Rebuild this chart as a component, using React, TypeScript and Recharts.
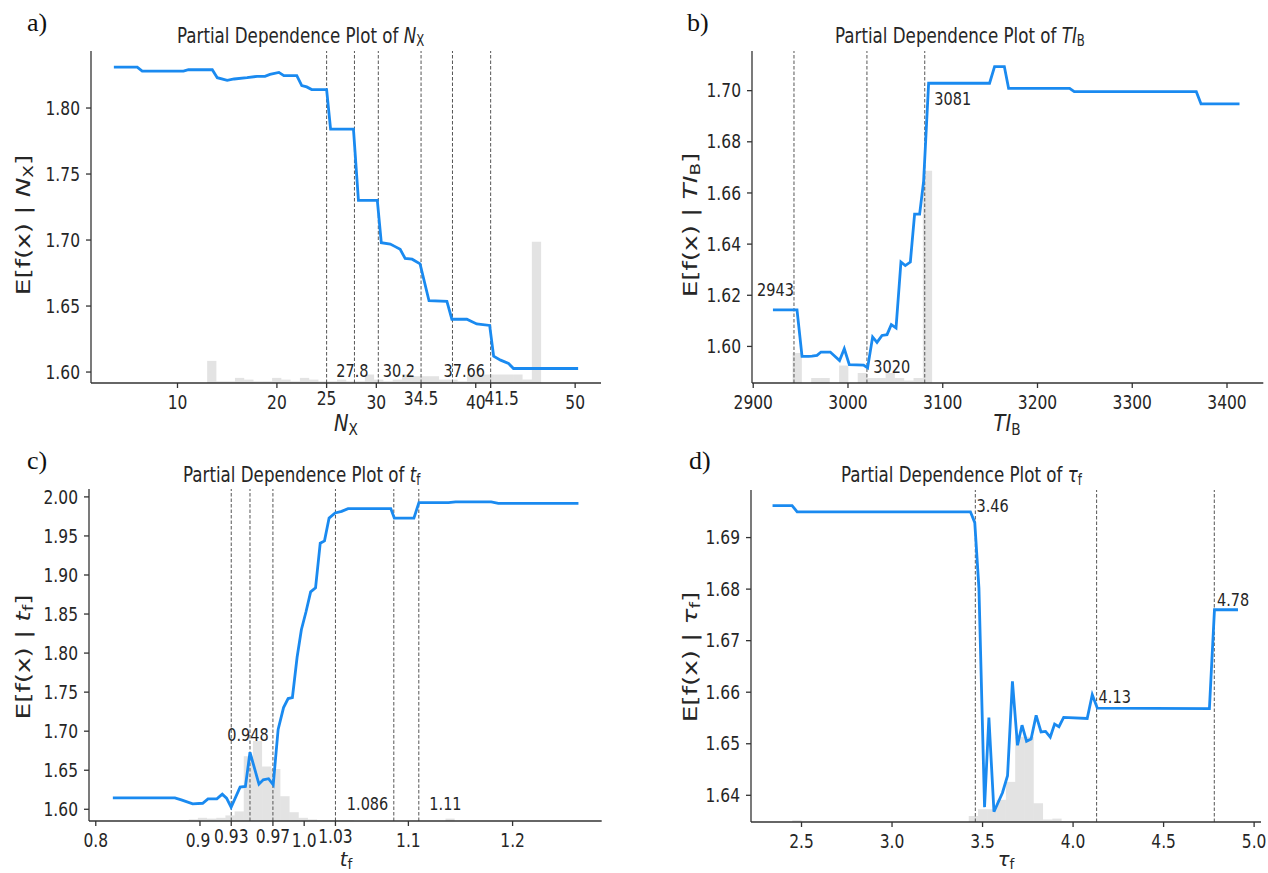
import React from "react";
import { ComposedChart, Line, XAxis, YAxis, ReferenceLine, ReferenceArea, ReferenceDot } from "recharts";

const FONT = "'DejaVu Sans', sans-serif";
const SERIF = "'Liberation Serif', serif";
const INK = "#262626";
const BLUE = "#1a8af0";
const TICK = 15.5;
const NOTE = 14.5;
const TITLE = 16.7;
const LABEL = 19.5;
const K = 1.2; // the source figure is stretched vertically
const KT = 1.32; // titles
const KY = 1.35; // same stretch, along the rotated y labels

// a) N_X
const nxX = [3.6, 5.95, 6.45, 10.6, 11.1, 13.5, 14.0, 15.0, 15.7, 17.0, 18.0, 18.8, 19.3, 20.2, 20.7, 22.0, 22.5, 23.0, 23.5, 25.0, 25.4, 27.7, 28.2, 30.1, 30.5, 31.4, 31.9, 32.4, 32.9, 33.6, 34.4, 35.3, 37.1, 37.6, 39.1, 40.1, 41.4, 41.8, 42.5, 43.3, 43.8, 50.3];
const nxPd = [1.831, 1.831, 1.828, 1.828, 1.829, 1.829, 1.823, 1.821, 1.822, 1.823, 1.824, 1.824, 1.8255, 1.827, 1.8245, 1.8245, 1.817, 1.816, 1.814, 1.814, 1.784, 1.784, 1.73, 1.73, 1.698, 1.697, 1.695, 1.693, 1.686, 1.6855, 1.682, 1.654, 1.6535, 1.64, 1.64, 1.6364, 1.6353, 1.612, 1.609, 1.6065, 1.6027, 1.6027];
const nxCounts = [13, 1, 1, 3, 2, 1, 1, 3, 2, 1, 3, 2, 1, 1, 2, 1, 1, 5, 2, 1, 2, 5, 4, 4, 4, 2, 2, 1, 5, 5, 5, 5, 5, 5, 2, 83];
const nxCuts = [25, 27.8, 30.2, 34.5, 37.66, 41.5];
const nxTicks = [10, 20, 25, 30, 34.5, 40, 41.5, 50];
const nxYTicks = [1.6, 1.65, 1.7, 1.75, 1.8];

// b) TI_B
const tiX = [2920.8, 2946.2, 2951.5, 2958.4, 2962, 2967.3, 2971.5, 2981.3, 2991.1, 2996.1, 3001.4, 3016.5, 3020.7, 3026, 3030.6, 3035.9, 3041.2, 3045.7, 3050.7, 3055.9, 3060.5, 3065.8, 3070.3, 3075.6, 3079.8, 3085.1, 3149.4, 3154.7, 3165, 3169.5, 3233.9, 3238.8, 3367.6, 3372.6, 3413.2];
const tiPd = [1.6143, 1.6143, 1.5961, 1.5961, 1.5962, 1.5965, 1.5978, 1.5978, 1.5945, 1.5991, 1.5929, 1.5927, 1.5916, 1.6037, 1.6016, 1.6043, 1.6046, 1.6085, 1.6072, 1.633, 1.6316, 1.633, 1.6517, 1.6517, 1.6645, 1.7029, 1.7029, 1.7094, 1.7094, 1.7009, 1.7009, 1.6996, 1.6996, 1.6948, 1.6948];
const tiCounts = [12, 0, 2, 2, 0, 7, 0, 4, 2, 2, 4, 2, 1, 2, 85];
const tiCuts = [2943, 3020, 3081];
const tiTicks = [2900, 3000, 3100, 3200, 3300, 3400];
const tiYTicks = [1.6, 1.62, 1.64, 1.66, 1.68, 1.7];

// c) t_f
const tfX = [0.8164, 0.8759, 0.8821, 0.893, 0.9026, 0.9077, 0.9162, 0.9214, 0.9255, 0.9299, 0.9385, 0.9436, 0.948, 0.9566, 0.9607, 0.9658, 0.9703, 0.975, 0.9802, 0.9846, 0.9887, 0.9932, 0.9973, 1.0017, 1.0062, 1.0109, 1.0154, 1.0195, 1.0239, 1.0297, 1.0359, 1.0421, 1.0831, 1.0865, 1.1053, 1.1101, 1.1385, 1.1453, 1.1795, 1.1863, 1.2632];
const tfPd = [1.6146, 1.6146, 1.612, 1.6069, 1.6077, 1.6133, 1.6133, 1.6193, 1.6142, 1.6026, 1.6284, 1.6292, 1.673, 1.6322, 1.6378, 1.6391, 1.6314, 1.7023, 1.7302, 1.7418, 1.7431, 1.7946, 1.8299, 1.8526, 1.8784, 1.8836, 1.9407, 1.9437, 1.9729, 1.9794, 1.9815, 1.985, 1.985, 1.9729, 1.9729, 1.9927, 1.9927, 1.9936, 1.9936, 1.9918, 1.9918];
const tfCounts = [1, 2, 4, 3, 4, 7, 12, 81, 100, 68, 65, 31, 11, 4, 2, 1, 1, 1, 1, 0, 0, 0, 0, 0, 0, 0, 0, 0, 0, 3];
const tfCuts = [0.93, 0.948, 0.97, 1.03, 1.086, 1.11];
const tfTicks = [0.8, 0.9, 0.93, 0.97, 1.0, 1.03, 1.1, 1.2];
const tfYTicks = [1.6, 1.65, 1.7, 1.75, 1.8, 1.85, 1.9, 1.95, 2.0];

// d) tau_f
const tauX = [2.34, 2.448, 2.476, 3.433, 3.457, 3.48, 3.511, 3.535, 3.563, 3.61, 3.638, 3.665, 3.693, 3.718, 3.743, 3.768, 3.796, 3.823, 3.848, 3.874, 3.898, 3.922, 3.948, 4.078, 4.106, 4.134, 4.753, 4.781, 4.911];
const tauPd = [1.6962, 1.6962, 1.695, 1.695, 1.6929, 1.6802, 1.6377, 1.6551, 1.6368, 1.6405, 1.6438, 1.6621, 1.6497, 1.6536, 1.6505, 1.6509, 1.6555, 1.6523, 1.6524, 1.6513, 1.6538, 1.6533, 1.6551, 1.6549, 1.6595, 1.6569, 1.6568, 1.676, 1.676];
const tauCounts = [2, 0, 0, 0, 0, 0, 0, 0, 0, 0, 0, 0, 0, 0, 0, 0, 0, 0, 0, 7, 15, 15, 26, 47, 100, 100, 22, 3, 4, 1, 1, 1];
const tauCuts = [3.46, 4.13, 4.78];
const tauTicks = [2.5, 3.0, 3.5, 4.0, 4.5, 5.0];
const tauYTicks = [1.64, 1.65, 1.66, 1.67, 1.68, 1.69];

const near = (a: number, b: number) => Math.abs(a - b) < 1e-9;

const XTick = (p: any) => {
  const v = p.payload.value;
  const up = p.raised.some((r: number) => near(r, v)) ? 4 : 0;
  const shift = p.shift && p.shift[String(v)] ? p.shift[String(v)] : 0;
  return (
    <text transform={`translate(${p.x + shift},${p.y + 0.73 * TICK * K - up}) scale(1,${K})`} textAnchor="middle" fontSize={TICK} fontFamily={FONT} fill={INK}>
      {p.fmt(v)}
    </text>
  );
};

const YTick = (p: any) => (
  <text transform={`translate(${p.x},${p.y + 0.36 * TICK * K}) scale(1,${K})`} textAnchor="end" fontSize={TICK} fontFamily={FONT} fill={INK}>
    {p.payload.value.toFixed(2)}
  </text>
);

const noteShape = (n: any) => (p: any) => (
  <text transform={`translate(${p.cx + n.dx},${p.cy + 0.36 * NOTE * K}) scale(1,${K})`} textAnchor={n.anchor} fontSize={NOTE} fontFamily={FONT} fill={INK}>
    {n.text}
  </text>
);

function Panel(props: any) {
  const { box, xs, ys, binStart, binWidth, counts, histTop, xDomain, yDomain, xTicks, yTicks, raised, shift, xFmt, cuts, notes } = props;
  const pts = xs.map((x: number, i: number) => ({ x, y: ys[i] }));
  const bins = counts
    .map((c: number, i: number) => ({ x1: binStart + i * binWidth, x2: binStart + (i + 1) * binWidth, c }))
    .filter((b: any) => b.c > 0);
  const L = 80, T = 10, R = 12, B = 45;
  return (
    <div style={{ position: "absolute", left: box.left - L, top: box.top - T }}>
      <ComposedChart width={box.w + L + R} height={box.h + T + B} margin={{ top: T, right: R, bottom: 0, left: 0 }}>
        <XAxis type="number" dataKey="x" domain={xDomain} allowDataOverflow ticks={xTicks} interval={0} height={B}
          tickSize={5} tickMargin={7} stroke="#333" strokeWidth={1.3}
          tick={(p: any) => <XTick {...p} raised={raised} shift={shift} fmt={xFmt} />} />
        <YAxis type="number" domain={yDomain} allowDataOverflow ticks={yTicks} interval={0} width={L}
          tickSize={5} tickMargin={6} stroke="#333" strokeWidth={1.3} tick={(p: any) => <YTick {...p} />} />
        <YAxis yAxisId="hist" hide domain={[0, histTop]} allowDataOverflow />
        {bins.map((b: any, i: number) => (
          <ReferenceArea key={"h" + i} yAxisId="hist" x1={b.x1} x2={b.x2} y1={0} y2={b.c} fill="#000" fillOpacity={0.11} stroke="none" ifOverflow="visible" />
        ))}
        {cuts.map((c: number) => (
          <ReferenceLine key={"c" + c} x={c} stroke="#555" strokeDasharray="3.5 2" strokeWidth={1} />
        ))}
        <Line data={pts} dataKey="y" type="linear" dot={false} activeDot={false} stroke={BLUE} strokeWidth={2.8} isAnimationActive={false} />
        {notes.map((n: any) => (
          <ReferenceDot key={"n" + n.text} x={n.x} y={n.y} r={0} ifOverflow="visible" shape={noteShape(n)} />
        ))}
      </ComposedChart>
    </div>
  );
}

const Sym = ({ sym, sub, size }: any) => (
  <>
    <tspan fontStyle="italic">{sym}</tspan>
    <tspan fontSize={size * 0.7} dy={size * 0.16}>{sub}</tspan>
  </>
);

const Texts = ({ letter, lx, ly, tx, ty, sym, sub, xlx, xly, xk, ylx, yly }: any) => (
  <g>
    <text x={lx} y={ly} fontSize={26} fontFamily={SERIF} fill="#111">{letter}</text>
    <text transform={`translate(${tx},${ty}) scale(1,${KT})`} fontSize={TITLE} fontFamily={FONT} fill={INK}>
      Partial Dependence Plot of <Sym sym={sym} sub={sub} size={TITLE} />
    </text>
    <text transform={`translate(${xlx},${xly}) scale(1,${xk})`} textAnchor="middle" fontSize={LABEL} fontFamily={FONT} fill={INK}>
      <Sym sym={sym} sub={sub} size={LABEL} />
    </text>
    <text transform={`translate(${ylx},${yly}) rotate(-90) scale(${KY},1)`} textAnchor="middle" fontSize={LABEL} fontFamily={FONT} fill={INK}>
      E[f(x) | <Sym sym={sym} sub={sub} size={LABEL} /><tspan dy={-LABEL * 0.16}>]</tspan>
    </text>
  </g>
);

const fmtPlain = (v: number) => String(v);
const fmtTf = (v: number) => (near(v * 10, Math.round(v * 10)) ? v.toFixed(1) : String(v));
const fmtOne = (v: number) => v.toFixed(1);

export default function App() {
  return (
    <div style={{ position: "absolute", left: 0, top: 0, width: 1268, height: 873, background: "#fff", overflow: "hidden" }}>
      <Panel box={{ left: 91, top: 51, w: 510, h: 332 }} xs={nxX} ys={nxPd}
        binStart={12.98} binWidth={0.9333} counts={nxCounts} histTop={195}
        xDomain={[1.3, 52.6]} yDomain={[1.5917, 1.8432]} xTicks={nxTicks} yTicks={nxYTicks}
        raised={[25, 34.5, 41.5]} shift={{ "41.5": 11 }} xFmt={fmtPlain} cuts={nxCuts}
        notes={[
          { x: 27.8, y: 1.601, text: "27.8", anchor: "middle", dx: -2 },
          { x: 30.2, y: 1.601, text: "30.2", anchor: "start", dx: 4.5 },
          { x: 37.66, y: 1.601, text: "37.66", anchor: "start", dx: -9 },
        ]} />
      <Panel box={{ left: 751.7, top: 51, w: 511.3, h: 332 }} xs={tiX} ys={tiPd}
        binStart={2941.5} binWidth={9.82} counts={tiCounts} histTop={133}
        xDomain={[2898.7, 3438.3]} yDomain={[1.5857, 1.7155]} xTicks={tiTicks} yTicks={tiYTicks}
        raised={[]} xFmt={fmtPlain} cuts={tiCuts}
        notes={[
          { x: 2943, y: 1.6221, text: "2943", anchor: "end", dx: 0 },
          { x: 3020, y: 1.5922, text: "3020", anchor: "start", dx: 6.4 },
          { x: 3081, y: 1.6968, text: "3081", anchor: "start", dx: 9.6 },
        ]} />
      <Panel box={{ left: 89.3, top: 489, w: 512.7, h: 332 }} xs={tfX} ys={tfPd}
        binStart={0.8804} binWidth={0.0088} counts={tfCounts} histTop={415}
        xDomain={[0.7935, 1.2855]} yDomain={[1.585, 2.0101]} xTicks={tfTicks} yTicks={tfYTicks}
        raised={[0.93, 0.97, 1.03]} shift={{ "0.9": -2 }} xFmt={fmtTf} cuts={tfCuts}
        notes={[
          { x: 0.948, y: 1.6955, text: "0.948", anchor: "middle", dx: -2 },
          { x: 1.086, y: 1.6077, text: "1.086", anchor: "end", dx: -5.5 },
          { x: 1.11, y: 1.6077, text: "1.11", anchor: "start", dx: 10.5 },
        ]} />
      <Panel box={{ left: 751, top: 490, w: 510, h: 332 }} xs={tauX} ys={tauPd}
        binStart={2.449} binWidth={0.0513} counts={tauCounts} histTop={389}
        xDomain={[2.221, 5.038]} yDomain={[1.63482, 1.69923]} xTicks={tauTicks} yTicks={tauYTicks}
        raised={[]} xFmt={fmtOne} cuts={tauCuts}
        notes={[
          { x: 3.46, y: 1.6961, text: "3.46", anchor: "start", dx: 1.2 },
          { x: 4.13, y: 1.6591, text: "4.13", anchor: "start", dx: 2 },
          { x: 4.78, y: 1.678, text: "4.78", anchor: "start", dx: 2.7 },
        ]} />
      <svg width={1268} height={873} style={{ position: "absolute", left: 0, top: 0, pointerEvents: "none" }}>
        <Texts letter="a)" lx={27} ly={31} tx={177} ty={42.7} sym="N" sub="X" xlx={346} xly={431} xk={K} ylx={30} yly={225} />
        <Texts letter="b)" lx={687} ly={31} tx={835} ty={42.7} sym="TI" sub="B" xlx={1007} xly={431} xk={K} ylx={697} yly={225} />
        <Texts letter="c)" lx={27} ly={469} tx={183} ty={481.5} sym="t" sub="f" xlx={346} xly={865.5} xk={1} ylx={30} yly={657} />
        <Texts letter="d)" lx={689} ly={469} tx={841} ty={481.5} sym="τ" sub="f" xlx={1006} xly={865.5} xk={1} ylx={697} yly={657} />
      </svg>
    </div>
  );
}
